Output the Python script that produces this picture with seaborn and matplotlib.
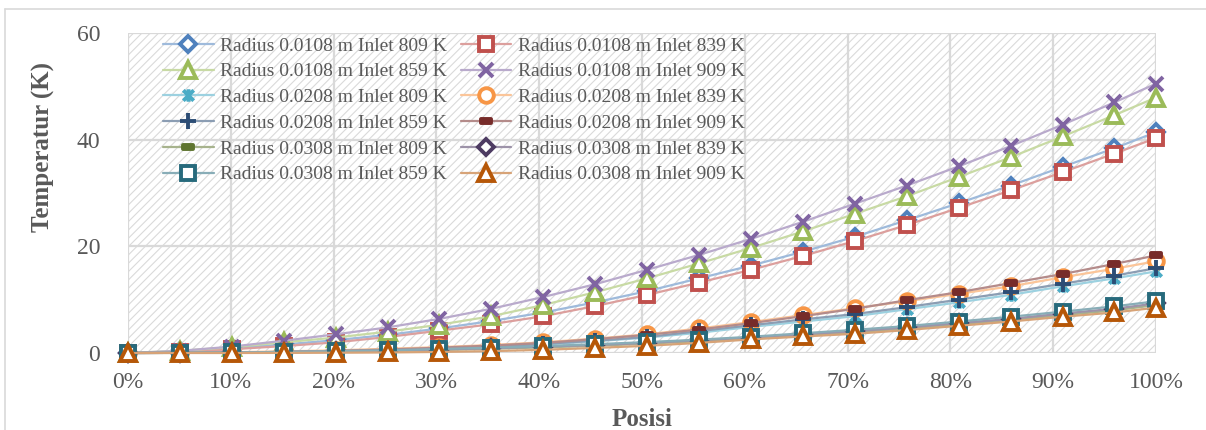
import numpy as np
import matplotlib
matplotlib.use("Agg")
import matplotlib.pyplot as plt
import seaborn as sns
from matplotlib.path import Path
from matplotlib.patches import Rectangle
from matplotlib.lines import Line2D
from matplotlib.ticker import PercentFormatter
from matplotlib.colors import to_rgb

# Positions along the pipe (fraction of length)
posisi = [0, 0.0505, 0.101, 0.1515, 0.202, 0.2525, 0.303, 0.3535, 0.404, 0.4545,
          0.505, 0.5556, 0.6061, 0.6566, 0.7071, 0.7576, 0.8081, 0.8586, 0.9091,
          0.9596, 1.0]

# Temperature rise (K) for each radius / inlet temperature
r0108_809 = [0, 0.3, 0.9, 1.6, 2.4, 3.4, 4.6, 6.0, 7.6, 9.5, 11.6, 14.0, 16.4,
             19.0, 21.8, 24.9, 28.1, 31.4, 34.9, 38.4, 41.4]
r0108_839 = [0, 0.2, 0.7, 1.3, 2.0, 3.0, 4.2, 5.4, 6.9, 8.8, 10.9, 13.2, 15.6,
             18.2, 21.0, 24.0, 27.2, 30.5, 33.9, 37.4, 40.3]
r0108_859 = [0, 0.4, 1.1, 2.0, 2.9, 4.0, 5.3, 6.9, 9.0, 11.4, 14.0, 16.8, 19.7,
             22.8, 26.1, 29.4, 33.0, 36.7, 40.6, 44.6, 47.9]
r0108_909 = [0, 0.4, 1.2, 2.3, 3.5, 4.8, 6.4, 8.3, 10.5, 12.9, 15.6, 18.4, 21.4,
             24.6, 28.0, 31.4, 35.0, 38.8, 42.8, 47.0, 50.5]
r0208_809 = [0, 0.02, 0.08, 0.15, 0.3, 0.5, 0.8, 1.1, 1.6, 2.2, 2.9, 3.8, 4.9,
             5.9, 6.9, 8.2, 9.5, 10.9, 12.5, 14.0, 15.3]
r0208_839 = [0, 0.05, 0.15, 0.3, 0.5, 0.8, 1.1, 1.5, 2.0, 2.7, 3.5, 4.6, 5.8,
             7.1, 8.4, 9.7, 11.1, 12.5, 14.2, 15.8, 17.2]
r0208_859 = [0, 0.03, 0.1, 0.2, 0.35, 0.55, 0.85, 1.2, 1.7, 2.3, 3.0, 4.1, 5.2,
             6.3, 7.3, 8.6, 10.0, 11.4, 13.0, 14.5, 15.9]
r0208_909 = [0, 0.03, 0.1, 0.2, 0.4, 0.65, 1.0, 1.4, 1.9, 2.6, 3.4, 4.4, 5.6,
             6.9, 8.3, 9.9, 11.4, 13.1, 14.8, 16.7, 18.3]
r0308_809 = [0, 0.02, 0.08, 0.15, 0.25, 0.4, 0.55, 0.8, 1.05, 1.35, 1.75, 2.2,
             2.7, 3.3, 3.9, 4.6, 5.4, 6.2, 7.1, 8.0, 9.0]
r0308_839 = [0, 0.03, 0.1, 0.2, 0.3, 0.45, 0.65, 0.9, 1.2, 1.5, 1.9, 2.4, 2.9,
             3.5, 4.1, 4.8, 5.6, 6.4, 7.4, 8.3, 9.3]
r0308_859 = [0, 0.03, 0.1, 0.2, 0.35, 0.5, 0.75, 1.0, 1.3, 1.65, 2.05, 2.5, 3.05,
             3.7, 4.35, 5.05, 5.9, 6.8, 7.75, 8.75, 9.7]
r0308_909 = [0, 0.0, 0.0, 0.02, 0.05, 0.1, 0.2, 0.35, 0.6, 0.95, 1.35, 1.9, 2.55,
             3.1, 3.6, 4.3, 5.1, 5.9, 6.8, 7.6, 8.5]

labels = ["Radius 0.0108 m Inlet 809 K", "Radius 0.0108 m Inlet 839 K",
          "Radius 0.0108 m Inlet 859 K", "Radius 0.0108 m Inlet 909 K",
          "Radius 0.0208 m Inlet 809 K", "Radius 0.0208 m Inlet 839 K",
          "Radius 0.0208 m Inlet 859 K", "Radius 0.0208 m Inlet 909 K",
          "Radius 0.0308 m Inlet 809 K", "Radius 0.0308 m Inlet 839 K",
          "Radius 0.0308 m Inlet 859 K", "Radius 0.0308 m Inlet 909 K"]
series = [r0108_809, r0108_839, r0108_859, r0108_909,
          r0208_809, r0208_839, r0208_859, r0208_909,
          r0308_809, r0308_839, r0308_859, r0308_909]

colors = ["#4F81BD", "#C0504D", "#9BBB59", "#8064A2", "#4BACC6", "#F79646",
          "#2C4D75", "#772C2A", "#5F7530", "#4D3B62", "#276A7C", "#B65708"]

# custom markers (Excel style)
dash = Path([(-1, -0.45), (1, -0.45), (1, 0.45), (-1, 0.45), (-1, -0.45)],
            [Path.MOVETO, Path.LINETO, Path.LINETO, Path.LINETO, Path.CLOSEPOLY])
star = Path([(-1, -1), (1, 1), (-1, 1), (1, -1), (0, -1.2), (0, 1.2)],
            [Path.MOVETO, Path.LINETO, Path.MOVETO, Path.LINETO, Path.MOVETO, Path.LINETO])

# marker, size, face filled?
styles = [("D", 8.5, False), ("s", 10.5, False), ("^", 11, False), ("x", 10, True),
          (star, 9, True), ("o", 10.5, False), ("+", 11, True), (dash, 7.5, True),
          (dash, 7.5, True), ("D", 8.5, False), ("s", 10.5, False), ("^", 11, False)]


def lighten(c, f=0.45):
    r, g, b = to_rgb(c)
    return (r + (1 - r) * f, g + (1 - g) * f, b + (1 - b) * f)


sns.set_style("white")
plt.rcParams["font.family"] = ["Liberation Serif", "DejaVu Serif"]
plt.rcParams["hatch.linewidth"] = 0.8
grey = "#595959"

fig = plt.figure(figsize=(12.06, 4.30), dpi=100)
ax = fig.add_axes([128 / 1206, 1 - 353 / 430, 1028 / 1206, 320 / 430])

# hatched plot area
ax.add_patch(Rectangle((0, 0), 1, 1, transform=ax.transAxes, facecolor="white",
                       edgecolor="#dadada", hatch="////", linewidth=0, zorder=0.1))

handles = []
for i, (vals, lab, col, (mk, ms, filled)) in enumerate(zip(series, labels, colors, styles)):
    sns.lineplot(x=posisi, y=vals, ax=ax, color=lighten(col), linewidth=1.6,
                 marker=mk, markersize=ms, markeredgewidth=2.8,
                 markeredgecolor=col, markerfacecolor=col if filled else "white",
                 clip_on=False, zorder=3 + i, label=lab, legend=False)
    handles.append(Line2D([], [], color=lighten(col), linewidth=1.6, marker=mk,
                          markersize=ms, markeredgewidth=2.8, markeredgecolor=col,
                          markerfacecolor=col if filled else "white"))

ax.set_xlim(0, 1)
ax.set_ylim(0, 60)
ax.set_xticks(np.arange(0, 1.01, 0.1))
ax.set_yticks([0, 20, 40, 60])
ax.xaxis.set_major_formatter(PercentFormatter(1.0, decimals=0))
ax.grid(True, color="#d9d9d9", linewidth=1.6)
ax.set_axisbelow(True)
for s in ax.spines.values():
    s.set_visible(False)
ax.tick_params(axis="both", length=0, labelsize=17, labelcolor=grey)
ax.tick_params(axis="y", pad=20)
ax.tick_params(axis="x", pad=14)
ax.set_xlabel("")
ax.set_ylabel("")

# legend in row-major order (2 columns)
order = [0, 2, 4, 6, 8, 10, 1, 3, 5, 7, 9, 11]
leg = fig.legend([handles[k] for k in order], [labels[k] for k in order],
                 ncol=2, loc="upper left", bbox_to_anchor=(163 / 1206, 1 - 37 / 430),
                 frameon=False, fontsize=14, handlelength=2.6, handletextpad=0.35,
                 columnspacing=0.7, labelspacing=0.42, borderpad=0, borderaxespad=0)
for t in leg.get_texts():
    t.set_color(grey)

fig.text(43 / 1206, 1 - 147 / 430, "Temperatur (K)", rotation=90, ha="center",
         va="center", fontsize=18, fontweight="bold", color=grey)
fig.text(642 / 1206, 1 - 419 / 430, "Posisi", ha="center", va="center",
         fontsize=18, fontweight="bold", color=grey)

# chart border
fig.add_artist(Line2D([5 / 1206, 1], [1 - 9 / 430] * 2, color="#d9d9d9", linewidth=1.2))
fig.add_artist(Line2D([5 / 1206] * 2, [0, 1 - 9 / 430], color="#d9d9d9", linewidth=1.2))

fig.savefig("out.png", dpi=100)
